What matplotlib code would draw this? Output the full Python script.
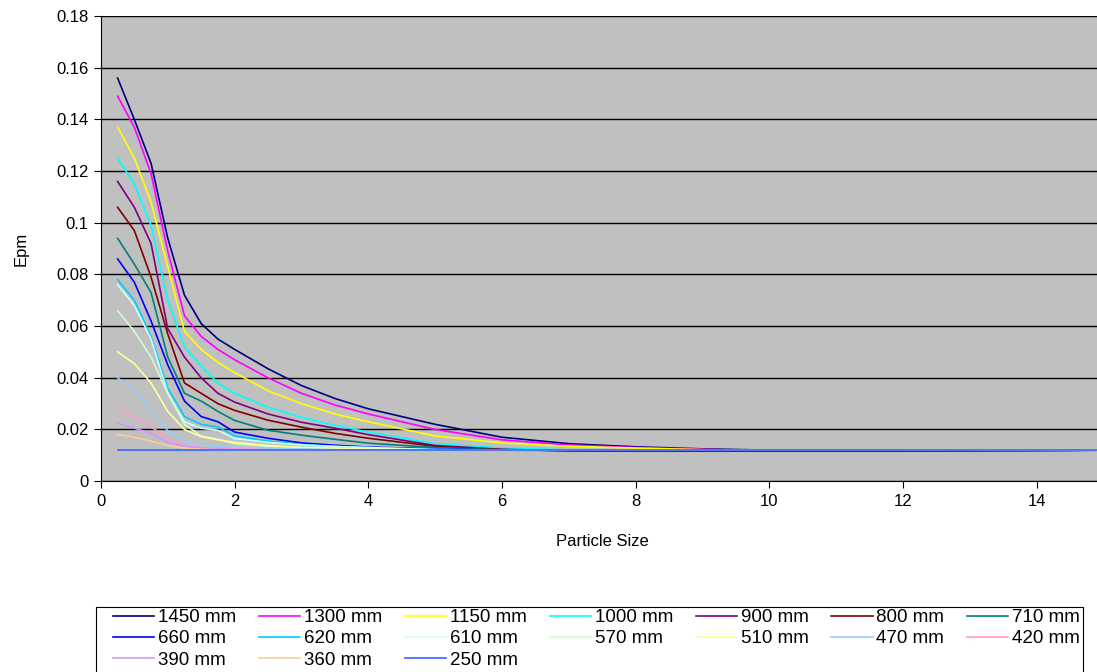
import matplotlib
matplotlib.use("Agg")
import matplotlib.pyplot as plt
from matplotlib.patches import Rectangle

plt.rcParams['font.family'] = ['Liberation Sans', 'DejaVu Sans']

size = [0.25, 0.5, 0.75, 1.0, 1.25, 1.5, 1.75, 2.0, 2.5, 3.0, 3.5, 4.0, 5.0, 6.0, 7.0, 8.0, 9.0, 10.0, 12.0, 15.0]

labels = ["1450 mm", "1300 mm", "1150 mm", "1000 mm", "900 mm", "800 mm", "710 mm",
          "660 mm", "620 mm", "610 mm", "570 mm", "510 mm", "470 mm", "420 mm",
          "390 mm", "360 mm", "250 mm"]
colors = ["#000080", "#FF00FF", "#FFFF00", "#00FFFF", "#800080", "#800000", "#008080",
          "#0000FF", "#00CCFF", "#CCFFFF", "#CCFFCC", "#FFFF99", "#99CCFF", "#FF99CC",
          "#CC99FF", "#FFCC99", "#3366FF"]

e1450 = [0.156, 0.140, 0.123, 0.094, 0.072, 0.061, 0.055, 0.051, 0.0435, 0.037, 0.032, 0.028, 0.022, 0.017, 0.0145, 0.0133, 0.0125, 0.012, 0.0117, 0.012]
e1300 = [0.149, 0.137, 0.119, 0.089, 0.064, 0.056, 0.051, 0.047, 0.040, 0.034, 0.0295, 0.026, 0.020, 0.016, 0.014, 0.013, 0.0123, 0.0118, 0.0116, 0.012]
e1150 = [0.137, 0.125, 0.108, 0.083, 0.058, 0.051, 0.046, 0.042, 0.035, 0.030, 0.026, 0.023, 0.0175, 0.0148, 0.0135, 0.0128, 0.0122, 0.0118, 0.0116, 0.012]
e1000 = [0.125, 0.115, 0.099, 0.070, 0.052, 0.0445, 0.038, 0.034, 0.0286, 0.0247, 0.0216, 0.019, 0.0145, 0.0128, 0.0121, 0.0118, 0.0117, 0.0116, 0.0116, 0.012]
e900 = [0.116, 0.106, 0.092, 0.059, 0.048, 0.040, 0.034, 0.0306, 0.026, 0.0228, 0.0205, 0.018, 0.0138, 0.0123, 0.0118, 0.0116, 0.0116, 0.0116, 0.0116, 0.012]
e800 = [0.106, 0.097, 0.079, 0.057, 0.038, 0.034, 0.030, 0.0274, 0.0236, 0.0209, 0.0185, 0.0166, 0.0135, 0.0122, 0.0118, 0.0117, 0.0117, 0.0117, 0.0117, 0.012]
e710 = [0.094, 0.084, 0.073, 0.048, 0.034, 0.031, 0.027, 0.0235, 0.0197, 0.0178, 0.0162, 0.0147, 0.013, 0.0121, 0.0119, 0.0118, 0.0118, 0.0118, 0.0118, 0.012]
e660 = [0.086, 0.077, 0.062, 0.045, 0.031, 0.025, 0.023, 0.019, 0.0166, 0.0148, 0.0139, 0.0132, 0.0125, 0.012, 0.0119, 0.0119, 0.0119, 0.0119, 0.0119, 0.012]
e620 = [0.078, 0.070, 0.056, 0.036, 0.025, 0.022, 0.021, 0.0175, 0.0155, 0.0142, 0.0135, 0.013, 0.0123, 0.012, 0.012, 0.012, 0.012, 0.012, 0.012, 0.012]
e610 = [0.076, 0.068, 0.055, 0.034, 0.023, 0.0205, 0.0197, 0.0165, 0.015, 0.014, 0.0134, 0.013, 0.0122, 0.012, 0.012, 0.012, 0.012, 0.012, 0.012, 0.012]
e570 = [0.066, 0.058, 0.048, 0.034, 0.022, 0.0175, 0.0162, 0.0145, 0.0135, 0.013, 0.0127, 0.0125, 0.012, 0.012, 0.012, 0.012, 0.012, 0.012, 0.012, 0.012]
e510 = [0.050, 0.0455, 0.038, 0.027, 0.020, 0.0172, 0.016, 0.015, 0.0138, 0.013, 0.0127, 0.0124, 0.012, 0.012, 0.012, 0.012, 0.012, 0.012, 0.012, 0.012]
e470 = [0.040, 0.035, 0.028, 0.0195, 0.015, 0.0138, 0.0135, 0.013, 0.0127, 0.0125, 0.0122, 0.012, 0.012, 0.012, 0.012, 0.012, 0.012, 0.012, 0.012, 0.012]
e420 = [0.028, 0.0248, 0.021, 0.0165, 0.0138, 0.013, 0.0127, 0.0125, 0.0122, 0.012, 0.012, 0.012, 0.012, 0.012, 0.012, 0.012, 0.012, 0.012, 0.012, 0.012]
e390 = [0.0224, 0.0205, 0.0185, 0.015, 0.0134, 0.0128, 0.0125, 0.0123, 0.0121, 0.012, 0.012, 0.012, 0.012, 0.012, 0.012, 0.012, 0.012, 0.012, 0.012, 0.012]
e360 = [0.018, 0.017, 0.0155, 0.0138, 0.0128, 0.0123, 0.0121, 0.012, 0.012, 0.012, 0.012, 0.012, 0.012, 0.012, 0.012, 0.012, 0.012, 0.012, 0.012, 0.012]
e250 = [0.012] * len(size)

series = [e1450, e1300, e1150, e1000, e900, e800, e710, e660, e620, e610,
          e570, e510, e470, e420, e390, e360, e250]

fig = plt.figure(figsize=(10.97, 6.72), dpi=100)
ax = fig.add_axes([0.092, 0.284, 0.914, 0.692])
ax.set_facecolor("#C0C0C0")

lines = []
for y, c, lab in zip(series, colors, labels):
    ln, = ax.plot(size, y, color=c, lw=1.2, label=lab)
    lines.append(ln)

ax.set_xlim(0, 15)
ax.set_ylim(0, 0.18)
ax.set_xticks(range(0, 15, 2))
ax.set_yticks([i * 0.02 for i in range(10)])
ax.set_yticklabels(["0", "0.02", "0.04", "0.06", "0.08", "0.1", "0.12", "0.14", "0.16", "0.18"])
ax.yaxis.grid(True, color="black", lw=1)
ax.set_axisbelow(True)
for s in ["top", "right"]:
    ax.spines[s].set_visible(False)
ax.spines["left"].set_color("black")
ax.spines["bottom"].set_color("black")
ax.tick_params(labelsize=12, length=5, color="black", pad=4)
ax.set_xlabel("Particle Size", fontsize=12, labelpad=18)
ax.set_ylabel("Epm", fontsize=12, labelpad=20)

# legend frame, runs off the bottom edge like the original
fig.patches.append(Rectangle((96 / 1097, -0.02), (1083 - 96) / 1097, 0.02 + 1 - 607 / 672,
                             transform=fig.transFigure, fill=False,
                             edgecolor="black", lw=0.8))

# Excel fills legend row by row; matplotlib goes column by column
order = [0, 7, 14, 1, 8, 15, 2, 9, 16, 3, 10, 4, 11, 5, 12, 6, 13]
leg = fig.legend([lines[i] for i in order], [labels[i] for i in order],
                 ncol=7, loc="upper left", mode="expand",
                 bbox_to_anchor=(113 / 1097, 1 - 609 / 672, (1080 - 113) / 1097, 0.0),
                 fontsize=13.5, frameon=False,
                 handlelength=2.2, handletextpad=0.2, labelspacing=0.22,
                 borderpad=0, borderaxespad=0, columnspacing=0.5)

fig.savefig("out.png", dpi=100)
